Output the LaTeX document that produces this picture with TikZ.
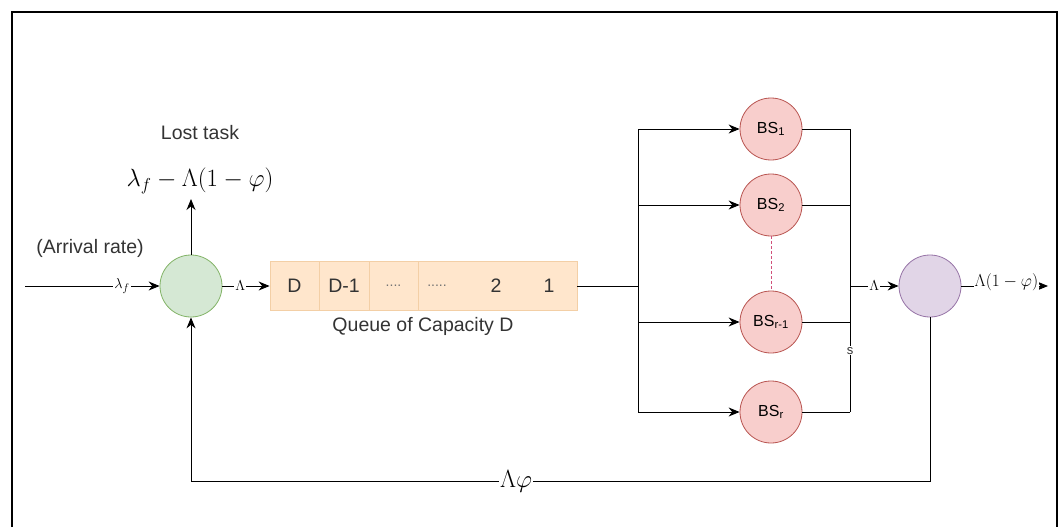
\documentclass[tikz,border=0pt]{standalone}
\usepackage[no-math]{fontspec}
\setmainfont{Liberation Sans}
\usetikzlibrary{arrows.meta}
\definecolor{mixfill}{HTML}{D5E8D4}
\definecolor{mixline}{HTML}{82B366}
\definecolor{outfill}{HTML}{E1D5E7}
\definecolor{outline}{HTML}{9673A6}
\definecolor{bsfill}{HTML}{F8CECC}
\definecolor{bsline}{HTML}{B85450}
\definecolor{dashline}{HTML}{D0507A}
\definecolor{qfill}{HTML}{FFE6CC}
\definecolor{qline}{HTML}{F3CFA6}
\begin{document}
\begin{tikzpicture}[x=1pt,y=-1pt]
				\tikzstyle{Vertex} = [circle, draw, minimum size=62, inner sep=0pt, line width=0.8pt]
				\tikzstyle{Cell} = [rectangle, draw=qline, fill=qfill, minimum height=49, inner sep=0pt, line width=0.8pt, font=\fontsize{19.5}{23}\selectfont, text=black!80]
				\tikzstyle{Arrow} = [-{Stealth[length=11pt,width=9pt]}, line width=1pt]
				\tikzstyle{Label} = [fill=white, inner sep=1pt]
				\tikzstyle{Caption} = [font=\fontsize{19.5}{23}\selectfont, text=black!80]
				\useasboundingbox (0,0) rectangle (1062,527);
				\draw[line width=1.5pt] (12,527) -- (12,12) -- (1057,12) -- (1057,527);
				% nodes
				\node (mix) at (191,286) [Vertex, fill=mixfill, draw=mixline] {};
				\node (exit) at (930,286) [Vertex, fill=outfill, draw=outline] {};
				\node (q1) at (294.5,286) [Cell, minimum width=49] {D};
				\node (q2) at (344,286) [Cell, minimum width=50] {D-1};
				\node (q3) at (393.5,286) [Cell, minimum width=49, font=\fontsize{14}{16}\selectfont, text=black!55] {....};
				\node (q4) at (497.5,286) [Cell, minimum width=159] {};
				\node (q4a) at (437,286) [Caption, font=\fontsize{14}{16}\selectfont, text=black!55] {.....};
				\node (q4b) at (496,286) [Caption] {2};
				\node (q4c) at (549,286) [Caption] {1};
				\node (queue) at (423,326) [Caption] {Queue of Capacity D};
				\node (bs1) at (771,129) [Vertex, fill=bsfill, draw=bsline, font=\fontsize{16}{19}\selectfont] {BS\textsubscript{1}};
				\node (bs2) at (771,205) [Vertex, fill=bsfill, draw=bsline, font=\fontsize{16}{19}\selectfont] {BS\textsubscript{2}};
				\node (bsr1) at (771,322) [Vertex, fill=bsfill, draw=bsline, font=\fontsize{16}{19}\selectfont] {BS\textsubscript{r-1}};
				\node (bsr) at (771,412) [Vertex, fill=bsfill, draw=bsline, font=\fontsize{16}{19}\selectfont] {BS\textsubscript{r}};
				\coordinate (src) at (25,286);
				\coordinate (lost) at (191,199);
				\coordinate (split) at (638,286);
				\coordinate (join) at (850,286);
				\coordinate (sink) at (1048,286);
				\coordinate (fbr) at (930,481);
				\coordinate (fbl) at (191,481);
				\node (losttext) at (200,133) [Caption] {Lost task};
				\node (lostrate) at (200,181) [font=\fontsize{25}{30}\selectfont] {$\lambda_f-\Lambda(1-\varphi)$};
				\node (arrival) at (90,248) [Caption] {(Arrival rate)};
				% connectors
				\draw [Arrow] (src) to node[Label, pos=0.72, font=\fontsize{15}{18}\selectfont] {$\lambda_f$} (mix);
				\draw [Arrow] (mix) to (lost);
				\draw [Arrow] (mix) to node[Label, pos=0.38, font=\fontsize{15}{18}\selectfont] {$\Lambda$} (q1);
				\draw [line width=1pt] (q4) to (split);
				\draw [line width=1pt] (split |- bs1) to (split |- bsr);
				\draw [Arrow] (split |- bs1) to (bs1);
				\draw [Arrow] (split |- bs2) to (bs2);
				\draw [Arrow] (split |- bsr1) to (bsr1);
				\draw [Arrow] (split |- bsr) to (bsr);
				\draw [dash pattern=on 3pt off 2pt, draw=dashline, line width=1pt] (bs2) to (bsr1);
				\draw [line width=1pt] (bs1) to (join |- bs1);
				\draw [line width=1pt] (bs2) to (join |- bs2);
				\draw [line width=1pt] (bsr1) to (join |- bsr1);
				\draw [line width=1pt] (bsr) to (join |- bsr);
				\draw [line width=1pt] (join |- bs1) to (join |- bsr1) to node[Label, pos=0.32, font=\fontsize{13}{15}\selectfont, text=black!80] {s} (join |- bsr);
				\draw [Arrow] (join) to node[Label, font=\fontsize{15}{18}\selectfont] {$\Lambda$} (exit);
				\draw [Arrow] (exit) to node[Label, pos=0.52, yshift=4pt, font=\fontsize{17.5}{21}\selectfont] {$\Lambda(1-\varphi)$} (sink);
				\draw [line width=1pt] (exit) to (fbr) to node[Label, pos=0.56, font=\fontsize{23}{27}\selectfont] {$\Lambda\varphi$} (fbl);
				\draw [Arrow] (fbl) to (mix);
			\end{tikzpicture}
\end{document}
